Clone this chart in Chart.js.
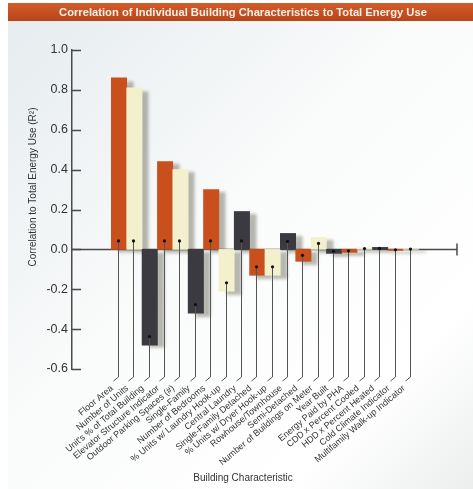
<!DOCTYPE html>
<html>
<head>
<meta charset="utf-8">
<script src="https://cdn.jsdelivr.net/npm/chart.js@4/dist/chart.umd.min.js"></script>
<style>
  html, body { margin: 0; padding: 0; background: #ffffff; }
  canvas { display: block; }
</style>
</head>
<body>
<canvas id="chart" width="473" height="489"></canvas>
<script>
// Building characteristics, in order of decreasing strength of correlation
const categories = [
  "Floor Area",
  "Number of Units",
  "Unit's % of Total Building",
  "Elevator Structure Indicator",
  "Outdoor Parking Spaces (#)",
  "Single-Family",
  "Number of Bedrooms",
  "% Units w/ Laundry Hook-up",
  "Central Laundry",
  "Single-Family Detached",
  "% Units w/ Dryer Hook-up",
  "Rowhouse/Townhouse",
  "Semi-Detached",
  "Number of Buildings on Meter",
  "Year Built",
  "Energy Paid by PHA",
  "CDD x Percent Cooled",
  "HDD x Percent Heated",
  "Cold Climate Indicator",
  "Multifamily Walk-up Indicator"
];

// Correlation with total energy use (R²)
const correlations = [
  0.86, 0.81, -0.48, 0.44, 0.40, -0.32, 0.30, -0.21, 0.19, -0.13,
  -0.13, 0.08, -0.06, 0.06, -0.02, -0.015, 0.008, 0.01, -0.005, 0.003
];

const yTickValues = [1.0, 0.8, 0.6, 0.4, 0.2, 0.0, -0.2, -0.4, -0.6];

const chartTitle = "Correlation of Individual Building Characteristics to Total Energy Use";
const yAxisTitle = "Correlation to Total Energy Use (R\u00B2)";
const xAxisTitle = "Building Characteristic";

// Bars cycle through three colours
const palette = ["#c94f1d", "#f3f0cd", "#3b3a41"];
const FONT = "'Liberation Sans', Arial, sans-serif";

const points = correlations.map((v, i) => ({ x: i, y: v }));

// Page background, title banner and axis titles
const backdrop = {
  id: "backdrop",
  beforeDraw(chart) {
    const ctx = chart.ctx;
    const W = chart.width, H = chart.height;
    ctx.save();
    ctx.fillStyle = "#ffffff";
    ctx.fillRect(0, 0, W, H);
    const g = ctx.createLinearGradient(8, 21, W, H);
    g.addColorStop(0, "#e6ecef");
    g.addColorStop(0.45, "#fafbfb");
    g.addColorStop(0.8, "#ffffff");
    g.addColorStop(1, "#eceeee");
    ctx.fillStyle = g;
    ctx.fillRect(8, 21, W - 8, H - 21);
    const b = ctx.createLinearGradient(0, 3, 0, 21);
    b.addColorStop(0, "#d35d2a");
    b.addColorStop(1, "#b8451a");
    ctx.fillStyle = b;
    ctx.fillRect(8, 3, W - 8, 18);
    ctx.fillStyle = "#fbeee6";
    ctx.font = "bold 11.2px " + FONT;
    ctx.textAlign = "center";
    ctx.textBaseline = "middle";
    ctx.fillText(chartTitle, 243, 12.5);
    ctx.restore();
  },
  afterDraw(chart) {
    const ctx = chart.ctx;
    ctx.save();
    ctx.fillStyle = "#333333";
    ctx.font = "10px " + FONT;
    ctx.textAlign = "center";
    ctx.textBaseline = "middle";
    ctx.translate(33, 187);
    ctx.rotate(-Math.PI / 2);
    ctx.fillText(yAxisTitle, 0, 0);
    ctx.restore();
    ctx.save();
    ctx.fillStyle = "#333333";
    ctx.font = "10px " + FONT;
    ctx.textAlign = "center";
    ctx.textBaseline = "middle";
    ctx.fillText(xAxisTitle, 243, 478);
    ctx.restore();
  }
};

// Zero line, inward y ticks, bar shadows, leader lines
const decorations = {
  id: "decorations",
  beforeDatasetsDraw(chart) {
    const ctx = chart.ctx;
    const area = chart.chartArea;
    const y = chart.scales.y;
    const y0 = y.getPixelForValue(0);
    ctx.save();
    ctx.strokeStyle = "#4a4a4a";
    ctx.lineWidth = 1.5;
    ctx.beginPath();
    yTickValues.forEach(v => {
      const py = Math.round(y.getPixelForValue(v)) + 0.5;
      ctx.moveTo(area.left, py);
      ctx.lineTo(area.left + 9, py);
    });
    ctx.stroke();
    ctx.beginPath();
    ctx.moveTo(area.left, y0);
    ctx.lineTo(area.right, y0);
    ctx.moveTo(area.right, y0 - 6);
    ctx.lineTo(area.right, y0 + 6);
    ctx.stroke();
    ctx.restore();
    // soft drop shadow for the bars
    ctx.save();
    ctx.shadowColor = "rgba(70, 70, 50, 0.38)";
    ctx.shadowOffsetX = 7;
    ctx.shadowOffsetY = 3;
    ctx.shadowBlur = 3;
  },
  afterDatasetsDraw(chart) {
    const ctx = chart.ctx;
    ctx.restore();
    const area = chart.chartArea;
    const meta = chart.getDatasetMeta(0);
    const endY = area.bottom + 8;
    ctx.save();
    ctx.strokeStyle = "#555555";
    ctx.lineWidth = 1;
    meta.data.forEach(bar => {
      const p = bar.getProps(["x", "y", "base"], true);
      const top = Math.min(p.y, p.base);
      const bottom = Math.max(p.y, p.base);
      const dotY = Math.max(bottom - 8.5, (top + bottom) / 2);
      const x = Math.round(p.x) - 0.5;
      ctx.beginPath();
      ctx.moveTo(x, dotY);
      ctx.lineTo(x, endY);
      ctx.lineTo(x - 5, endY + 4);
      ctx.stroke();
      ctx.fillStyle = "#111111";
      ctx.beginPath();
      ctx.arc(x, dotY, 1.6, 0, Math.PI * 2);
      ctx.fill();
    });
    ctx.restore();
  }
};

new Chart(document.getElementById("chart"), {
  type: "bar",
  data: {
    datasets: [{
      data: points,
      backgroundColor: correlations.map((_, i) => palette[i % palette.length]),
      borderWidth: 0,
      barPercentage: 1,
      categoryPercentage: 1
    }]
  },
  options: {
    responsive: false,
    animation: false,
    devicePixelRatio: 1,
    layout: { padding: { top: 50, right: 16, left: 0, bottom: 0 } },
    plugins: {
      legend: { display: false },
      title: { display: false },
      tooltip: { enabled: false }
    },
    scales: {
      x: {
        type: "linear",
        offset: false,
        min: -3.06,
        max: 22,
        afterBuildTicks(scale) {
          scale.ticks = categories.map((_, i) => ({ value: i - 0.45 }));
        },
        afterFit(scale) { scale.height = 120; },
        grid: { display: false, drawTicks: false, offset: false },
        border: { display: false },
        ticks: {
          autoSkip: false,
          minRotation: 40,
          maxRotation: 40,
          padding: 14,
          color: "#333333",
          font: { family: FONT, size: 9 },
          callback: (value, index) => categories[index]
        }
      },
      y: {
        min: -0.6,
        max: 1.0,
        afterBuildTicks(scale) {
          scale.ticks = yTickValues.map(v => ({ value: v }));
        },
        afterFit(scale) { scale.width = 72; },
        grid: { display: false, drawTicks: false },
        border: { display: true, color: "#4a4a4a", width: 1.5 },
        ticks: {
          padding: 4,
          color: "#333333",
          font: { family: FONT, size: 12.5 },
          callback: v => (Math.abs(v) < 1e-9 ? "0.0" : v.toFixed(1))
        }
      }
    }
  },
  plugins: [backdrop, decorations]
});
</script>
</body>
</html>
